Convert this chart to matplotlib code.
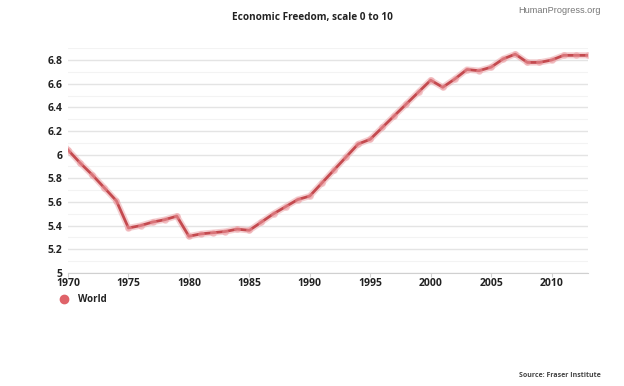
import matplotlib
matplotlib.use('Agg')
import matplotlib.pyplot as plt
from matplotlib.ticker import MultipleLocator

plt.rcParams['font.family'] = ['Open Sans', 'DejaVu Sans']

years = list(range(1970, 2014))
world = [6.04, 5.93, 5.83, 5.72, 5.61, 5.38, 5.40, 5.43, 5.45, 5.48,
         5.31, 5.33, 5.34, 5.35, 5.37, 5.36, 5.43, 5.50, 5.56, 5.62,
         5.65, 5.76, 5.87, 5.98, 6.09, 6.13, 6.23, 6.33, 6.43, 6.53,
         6.63, 6.57, 6.64, 6.72, 6.71, 6.74, 6.81, 6.85, 6.78, 6.78,
         6.80, 6.84, 6.84, 6.84]
xticks = [1970, 1975, 1980, 1985, 1990, 1995, 2000, 2005, 2010]
yticks = [5, 5.2, 5.4, 5.6, 5.8, 6, 6.2, 6.4, 6.6, 6.8]

fig = plt.figure(figsize=(6.24, 3.86), dpi=100)
ax = fig.add_axes([0.109, 0.293, 0.833, 0.582])

red = '#c44a4f'
# soft halo under the line
ax.plot(years, world, color='#eaa0a4', lw=4.5, alpha=0.5, zorder=2,
        solid_joinstyle='round')
ax.plot(years, world, color=red, lw=2.0, zorder=3, solid_joinstyle='round')
ax.plot(years, world, ls='none', marker='o', ms=4.8, color='#ec9aa0',
        alpha=0.5, markeredgewidth=0, zorder=4)

ax.set_xlim(1970, 2013)
ax.set_ylim(5, 6.9)
ax.set_xticks(xticks)
ax.set_yticks(yticks)
ax.set_yticklabels(['5', '5.2', '5.4', '5.6', '5.8', '6', '6.2', '6.4', '6.6', '6.8'])
ax.yaxis.set_minor_locator(MultipleLocator(0.1))
ax.grid(axis='y', which='major', color='#e4e4e4', lw=1)
ax.grid(axis='y', which='minor', color='#f3f3f3', lw=0.8)
ax.set_axisbelow(True)
for s in ['top', 'right', 'left']:
    ax.spines[s].set_visible(False)
ax.spines['bottom'].set_color('#d0d0d0')
ax.tick_params(axis='y', which='both', length=0, pad=4)
ax.tick_params(axis='x', length=3, color='#d0d0d0', pad=1)
for lab in ax.get_xticklabels() + ax.get_yticklabels():
    lab.set_fontsize(7.5)
    lab.set_fontweight('bold')
    lab.set_color('#222222')

fig.text(0.5, 0.955, 'Economic Freedom, scale 0 to 10', ha='center', va='center',
         fontsize=7.2, fontweight='bold', color='#222222')
fig.text(0.962, 0.972, 'HumanProgress.org', ha='right', va='center',
         fontsize=6.6, color='#777777', family=['Liberation Sans', 'DejaVu Sans'])
fig.text(0.963, 0.028, 'Source: Fraser Institute', ha='right', va='center',
         fontsize=5, fontweight='bold', color='#444444')

leg = ax.legend([plt.Line2D([], [], ls='none', marker='o', ms=6, color='#df6369')],
                ['World'], loc='upper left', bbox_to_anchor=(-0.034, -0.055),
                frameon=False, handlelength=1.0, handletextpad=0.9,
                prop={'size': 7, 'weight': 'bold'})
for t in leg.get_texts():
    t.set_color('#222222')

fig.savefig('out.png', dpi=100)
